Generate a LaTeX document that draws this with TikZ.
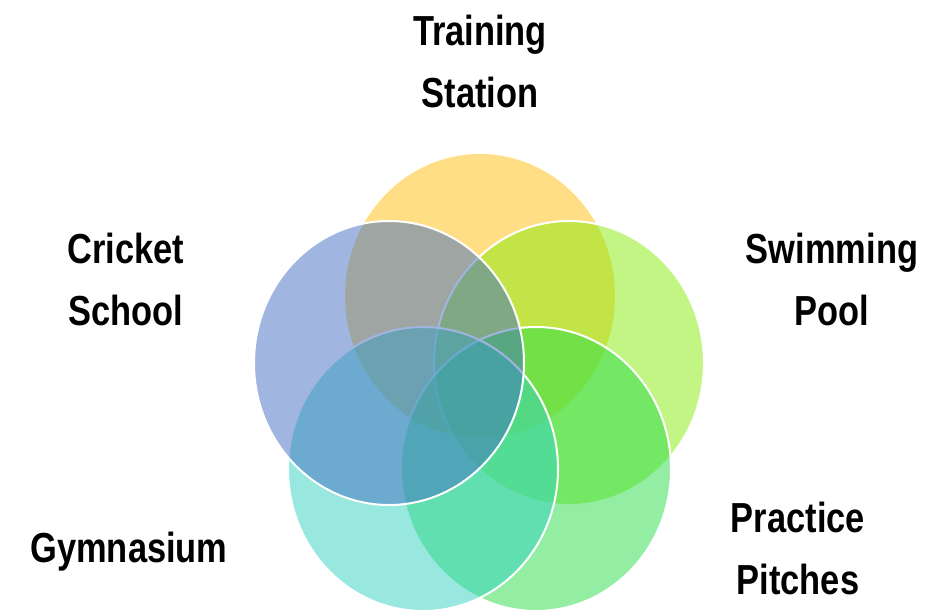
\documentclass[tikz,border=0pt]{standalone}
\usepackage{fontspec}
\setmainfont{Liberation Sans}[FakeStretch=0.82]
\usetikzlibrary{shapes.geometric, positioning}
\definecolor{trainYellow}{RGB}{255,189,11}
\definecolor{swimGreen}{RGB}{135,235,11}
\definecolor{cricketBlue}{RGB}{65,109,193}
\definecolor{gymCyan}{RGB}{51,209,193}
\definecolor{pitchGreen}{RGB}{39,221,71}

\begin{document}
\begin{tikzpicture}[x=1pt, y=-1pt,
        venn/.style={ellipse, minimum width=270pt, minimum height=284pt, inner sep=0pt,
            fill opacity=0.5, draw=white, draw opacity=1, line width=2pt},
        lbl/.style={align=center, inner sep=0pt, font=\fontsize{42}{62}\selectfont\bfseries}]
    \useasboundingbox (0,0) rectangle (937,611);

    % the five circles, back to front
    \node[venn, fill=trainYellow, draw=none] (train) at (480,296) {};
    \node[venn, fill=swimGreen] (swim) at (569,363) {};
    \node[venn, fill=pitchGreen] (pitch) at (536,469) {};
    \node[venn, fill=gymCyan] (gym) at (423,469) {};
    \node[venn, fill=cricketBlue] (cricket) at (389,363) {};

    % labels
    \node[lbl] (trainLbl) at (480,61) {Training\\Station};
    \node[lbl] (cricketLbl) at (126,279) {Cricket\\School};
    \node[lbl] (swimLbl) at (832,279) {Swimming\\Pool};
    \node[lbl] (gymLbl) at (129,552) {Gymnasium};
    \node[lbl] (pitchLbl) at (798,548) {Practice\\Pitches};
\end{tikzpicture}
\end{document}
